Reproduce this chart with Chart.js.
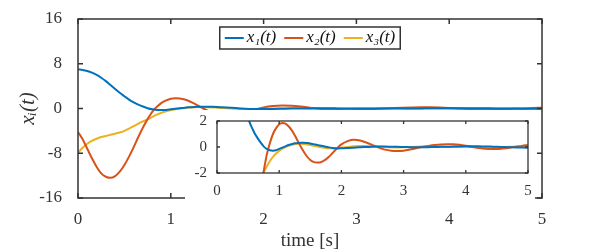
<!DOCTYPE html>
<html>
<head>
<meta charset="utf-8">
<script src="https://cdn.jsdelivr.net/npm/chart.js@4.4.1/dist/chart.umd.min.js"></script>
<style>
  html, body { margin: 0; padding: 0; background: #fff; }
  #wrap { position: relative; width: 599px; height: 252px; }
  #main { position: absolute; left: 0; top: 0; }
  #inset { position: absolute; left: 185px; top: 110px; }
</style>
</head>
<body>
<div id="wrap">
  <canvas id="main" width="599" height="252" style="width:599px;height:252px"></canvas>
  <canvas id="inset" width="350" height="90" style="width:350px;height:90px"></canvas>
</div>
<script>
// sample times [s]
const t = [0, 0.05, 0.1, 0.15, 0.2, 0.25, 0.3, 0.35, 0.4, 0.45, 0.5, 0.55, 0.6, 0.65, 0.7, 0.75, 0.8, 0.85, 0.9, 0.95,
  1.0, 1.05, 1.1, 1.15, 1.2, 1.25, 1.3, 1.35, 1.4, 1.45, 1.5, 1.55, 1.6, 1.65, 1.7, 1.75, 1.8, 1.85, 1.9, 1.95, 2.0,
  2.1, 2.2, 2.3, 2.4, 2.5, 2.6, 2.7, 2.8, 2.9, 3.0, 3.1, 3.2, 3.3, 3.4, 3.5, 3.6, 3.7, 3.8, 3.9, 4.0,
  4.1, 4.2, 4.3, 4.4, 4.5, 4.6, 4.7, 4.8, 4.9, 5.0];

const x1 = [7.0, 6.9, 6.7, 6.4, 6.0, 5.5, 4.9, 4.2, 3.5, 2.8, 2.2, 1.6, 1.1, 0.7, 0.35, 0.05, -0.15, -0.25, -0.28, -0.25,
  -0.15, -0.05, 0.05, 0.15, 0.22, 0.28, 0.3, 0.32, 0.32, 0.3, 0.27, 0.22, 0.17, 0.12, 0.07, 0.02, -0.03, -0.07, -0.1, -0.11, -0.1,
  -0.08, -0.05, -0.02, 0.0, 0.02, 0.03, 0.03, 0.02, 0.01, 0.0, -0.01, -0.02, -0.02, -0.01, 0.0, 0.01, 0.02, 0.03, 0.04, 0.05,
  0.05, 0.05, 0.04, 0.03, 0.02, 0.0, -0.02, -0.03, -0.04, -0.05];

const x2 = [-4.2, -5.5, -7.2, -8.9, -10.4, -11.6, -12.2, -12.4, -12.1, -11.3, -10.1, -8.6, -6.9, -5.1, -3.4, -1.9, -0.6, 0.3, 1.0, 1.45,
  1.75, 1.85, 1.8, 1.6, 1.3, 0.9, 0.45, 0.0, -0.4, -0.75, -1.0, -1.15, -1.2, -1.2, -1.1, -0.95, -0.75, -0.5, -0.25, 0.0, 0.2,
  0.45, 0.55, 0.5, 0.35, 0.15, -0.05, -0.2, -0.28, -0.3, -0.28, -0.2, -0.1, 0.0, 0.08, 0.15, 0.2, 0.22, 0.22, 0.18, 0.1,
  0.0, -0.08, -0.13, -0.16, -0.16, -0.12, -0.06, 0.02, 0.08, 0.15];

const x3 = [-7.9, -7.0, -6.3, -5.8, -5.4, -5.1, -4.9, -4.7, -4.5, -4.3, -4.0, -3.6, -3.15, -2.7, -2.3, -1.95, -1.5, -1.1, -0.75, -0.5,
  -0.3, -0.12, 0.0, 0.1, 0.17, 0.22, 0.25, 0.25, 0.23, 0.2, 0.15, 0.1, 0.05, 0.0, -0.04, -0.07, -0.09, -0.1, -0.1, -0.08, -0.05,
  0.0, 0.05, 0.08, 0.08, 0.06, 0.03, 0.0, -0.02, -0.03, -0.02, 0.0, 0.02, 0.03, 0.03, 0.02, 0.01, 0.0, 0.0, 0.01, 0.01,
  0.0, 0.0, -0.01, -0.01, 0.0, 0.0, 0.01, 0.01, 0.02, 0.02];

const labels = ['x\u2081(t)', 'x\u2082(t)', 'x\u2083(t)'];
const colors = ['#0072BD', '#D95319', '#EDB120'];
const series = [x1, x2, x3];

const axisColor = '#333333';
const serif = "'Liberation Serif', 'DejaVu Serif', serif";

function makeDatasets() {
  return series.map((s, i) => ({
    label: labels[i],
    data: s.map((v, k) => ({ x: t[k], y: v })),
    borderColor: colors[i],
    backgroundColor: colors[i],
    borderWidth: 2,
    pointRadius: 0,
    tension: 0.4,
    cubicInterpolationMode: 'monotone'
  }));
}

// box around the axes plus inward tick marks (MATLAB style)
const boxTicks = {
  id: 'boxTicks',
  afterDraw(chart, args, opts) {
    const { ctx, chartArea: a, scales: { x, y } } = chart;
    const L = opts.len;
    ctx.save();
    ctx.strokeStyle = axisColor;
    ctx.lineWidth = opts.width;
    ctx.beginPath();
    x.ticks.forEach(tk => {
      const px = x.getPixelForValue(tk.value);
      ctx.moveTo(px, a.bottom); ctx.lineTo(px, a.bottom - L);
      ctx.moveTo(px, a.top); ctx.lineTo(px, a.top + L);
    });
    y.ticks.forEach(tk => {
      const py = y.getPixelForValue(tk.value);
      ctx.moveTo(a.left, py); ctx.lineTo(a.left + L, py);
      ctx.moveTo(a.right, py); ctx.lineTo(a.right - L, py);
    });
    ctx.stroke();
    ctx.strokeRect(a.left, a.top, a.right - a.left, a.bottom - a.top);
    ctx.restore();
  }
};

// horizontal legend in a box, top centre of the axes
const boxLegend = {
  id: 'boxLegend',
  afterDraw(chart, args, opts) {
    const { ctx, chartArea: a } = chart;
    const ds = chart.data.datasets;
    ctx.save();
    ctx.font = 'italic 17px ' + serif;
    const lineW = 19, gap = 3, itemGap = 8, pad = 5;
    const widths = ds.map(d => ctx.measureText(d.label).width);
    let total = pad * 2;
    widths.forEach((w, i) => { total += lineW + gap + w + (i < ds.length - 1 ? itemGap : 0); });
    const h = 22;
    const left = (a.left + a.right) / 2 - total / 2;
    const top = a.top + opts.offset;
    ctx.fillStyle = '#fff';
    ctx.fillRect(left, top, total, h);
    ctx.strokeStyle = axisColor;
    ctx.lineWidth = 1.5;
    ctx.strokeRect(left, top, total, h);
    let x = left + pad;
    const cy = top + h / 2;
    ds.forEach((d, i) => {
      ctx.strokeStyle = d.borderColor;
      ctx.lineWidth = 2;
      ctx.beginPath(); ctx.moveTo(x, cy); ctx.lineTo(x + lineW, cy); ctx.stroke();
      x += lineW + gap;
      ctx.fillStyle = '#111';
      ctx.textBaseline = 'middle';
      ctx.fillText(d.label, x, cy);
      x += widths[i] + itemGap;
    });
    ctx.restore();
  }
};

new Chart(document.getElementById('main'), {
  type: 'line',
  data: { datasets: makeDatasets() },
  plugins: [boxTicks, boxLegend],
  options: {
    responsive: false,
    animation: false,
    layout: { padding: { top: 19, right: 57, left: 0, bottom: 0 } },
    plugins: {
      tooltip: { enabled: false },
      legend: { display: false },
      boxTicks: { len: 5, width: 1.5 },
      boxLegend: { offset: 8 }
    },
    scales: {
      x: {
        type: 'linear', min: 0, max: 5,
        ticks: { stepSize: 1, color: axisColor, padding: 3, font: { family: serif, size: 17 } },
        grid: { display: false },
        border: { display: false },
        title: { display: true, text: 'time [s]', color: axisColor, padding: { top: 0, bottom: 0 }, font: { family: serif, size: 19 } },
        afterFit(s) { s.height = 54; }
      },
      y: {
        min: -16, max: 16,
        ticks: { stepSize: 8, color: axisColor, padding: 8, font: { family: serif, size: 17 } },
        grid: { display: false },
        border: { display: false },
        title: { display: true, text: 'x\u1D62(t)', color: axisColor, padding: { top: 16, bottom: 0 }, font: { family: serif, size: 21, style: 'italic' } },
        afterFit(s) { s.width = 78; }
      }
    }
  }
});

new Chart(document.getElementById('inset'), {
  type: 'line',
  data: { datasets: makeDatasets() },
  plugins: [boxTicks, {
    id: 'whiteBg',
    beforeDraw(chart) {
      const { ctx, width, height } = chart;
      ctx.save(); ctx.fillStyle = '#fff'; ctx.fillRect(0, 0, width, height); ctx.restore();
    }
  }],
  options: {
    responsive: false,
    animation: false,
    layout: { padding: { top: 11, right: 7, left: 0, bottom: 0 } },
    plugins: {
      tooltip: { enabled: false },
      legend: { display: false },
      boxTicks: { len: 3, width: 1.3 }
    },
    scales: {
      x: {
        type: 'linear', min: 0, max: 5,
        ticks: { stepSize: 1, color: axisColor, padding: 1, font: { family: serif, size: 15 } },
        grid: { display: false },
        border: { display: false },
        afterFit(s) { s.height = 27; }
      },
      y: {
        min: -2, max: 2,
        ticks: { stepSize: 2, color: axisColor, padding: 2, font: { family: serif, size: 15 } },
        grid: { display: false },
        border: { display: false },
        afterFit(s) { s.width = 32; }
      }
    }
  }
});
</script>
</body>
</html>
